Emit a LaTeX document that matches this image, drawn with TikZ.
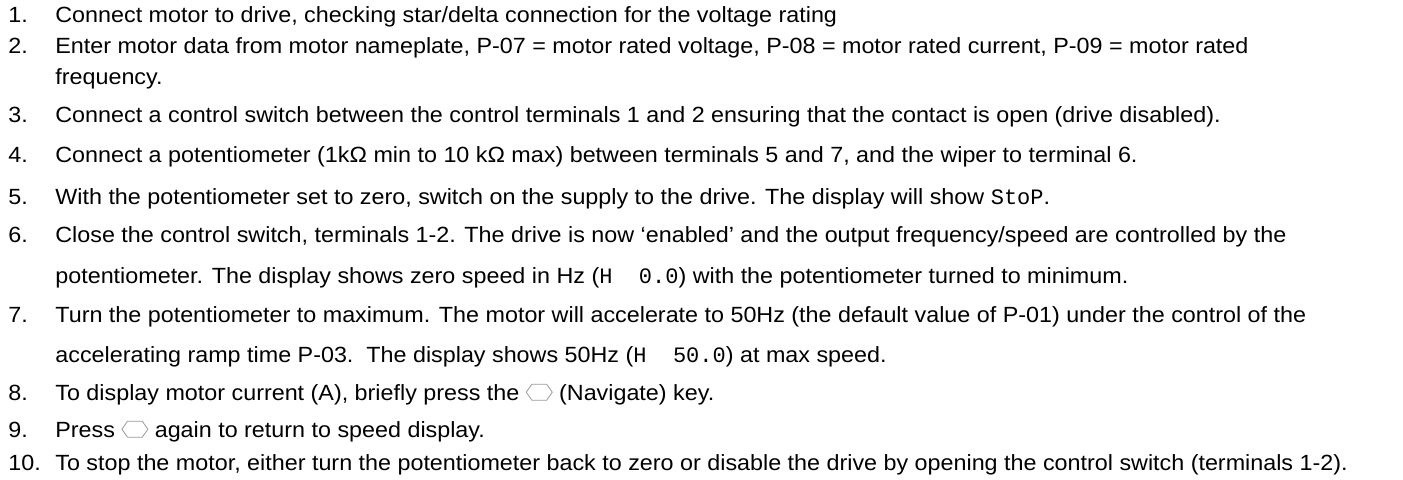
\documentclass[tikz,border=0pt]{standalone}
\usepackage{fontspec}
\setmainfont[FakeStretch=1.06]{Liberation Sans}
\newfontfamily\segfont{Liberation Mono}
\usetikzlibrary{positioning,shapes.symbols}

\tikzset{
  item/.style={anchor=base west,inner sep=0pt,font=\fontsize{11}{13}\selectfont},
  navkey/.style={draw=gray!80,thin,signal,signal to=east and west,signal pointer angle=110,
    minimum width=13pt,minimum height=8pt,inner sep=0pt,anchor=west}
}
\newcommand{\readout}[1]{{\segfont #1}}

\begin{document}
\begin{tikzpicture}[x=0.5pt,y=-0.5pt]
   \useasboundingbox (0,0) rectangle (1403,479);

   \node[item] (n1) at (8,22)  {1.};
   \node[item] (t1) at (55,22) {Connect motor to drive, checking star/delta connection for the voltage rating};

   \node[item] (n2) at (8,53)  {2.};
   \node[item] (t2) at (55,53) {Enter motor data from motor nameplate, P-07 = motor rated voltage, P-08 = motor rated current, P-09 = motor rated};
   \node[item] (t2b) at (55,84) {frequency.};

   \node[item] (n3) at (8,122)  {3.};
   \node[item] (t3) at (55,122) {Connect a control switch between the control terminals 1 and 2 ensuring that the contact is open (drive disabled).};

   \node[item] (n4) at (8,162)  {4.};
   \node[item] (t4) at (55,162) {Connect a potentiometer (1kΩ min to 10 kΩ max) between terminals 5 and 7, and the wiper to terminal 6.};

   \node[item] (n5) at (8,204)  {5.};
   \node[item] (t5) at (55,204) {With the potentiometer set to zero, switch on the supply to the drive. The display will show \readout{StoP}.};

   \node[item] (n6) at (8,242)  {6.};
   \node[item] (t6) at (55,242) {Close the control switch, terminals 1-2. The drive is now `enabled' and the output frequency/speed are controlled by the};
   \node[item] (t6b) at (55,283) {potentiometer. The display shows zero speed in Hz (\readout{H\hspace{1.2em}0.0}) with the potentiometer turned to minimum.};

   \node[item] (n7) at (8,322)  {7.};
   \node[item] (t7) at (55,322) {Turn the potentiometer to maximum. The motor will accelerate to 50Hz (the default value of P-01) under the control of the};
   \node[item] (t7b) at (55,362) {accelerating ramp time P-03.\ \ The display shows 50Hz (\readout{H\hspace{1.2em}50.0}) at max speed.};

   \node[item] (n8) at (8,400)  {8.};
   \node[item] (t8) at (55,400) {To display motor current (A), briefly press the};
   \node[navkey] (k8) [right=3pt of t8.base east,yshift=3.9pt] {};
   \node[item] (t8b) at ([xshift=3pt]k8.east |- t8.base) {(Navigate) key.};

   \node[item] (n9) at (8,437)  {9.};
   \node[item] (t9) at (55,437) {Press};
   \node[navkey] (k9) [right=3pt of t9.base east,yshift=3.9pt] {};
   \node[item] (t9b) at ([xshift=3pt]k9.east |- t9.base) {again to return to speed display.};

   \node[item] (n10) at (8,470)  {10.};
   \node[item] (t10) at (55,470) {To stop the motor, either turn the potentiometer back to zero or disable the drive by opening the control switch (terminals 1-2).};
\end{tikzpicture}
\end{document}
